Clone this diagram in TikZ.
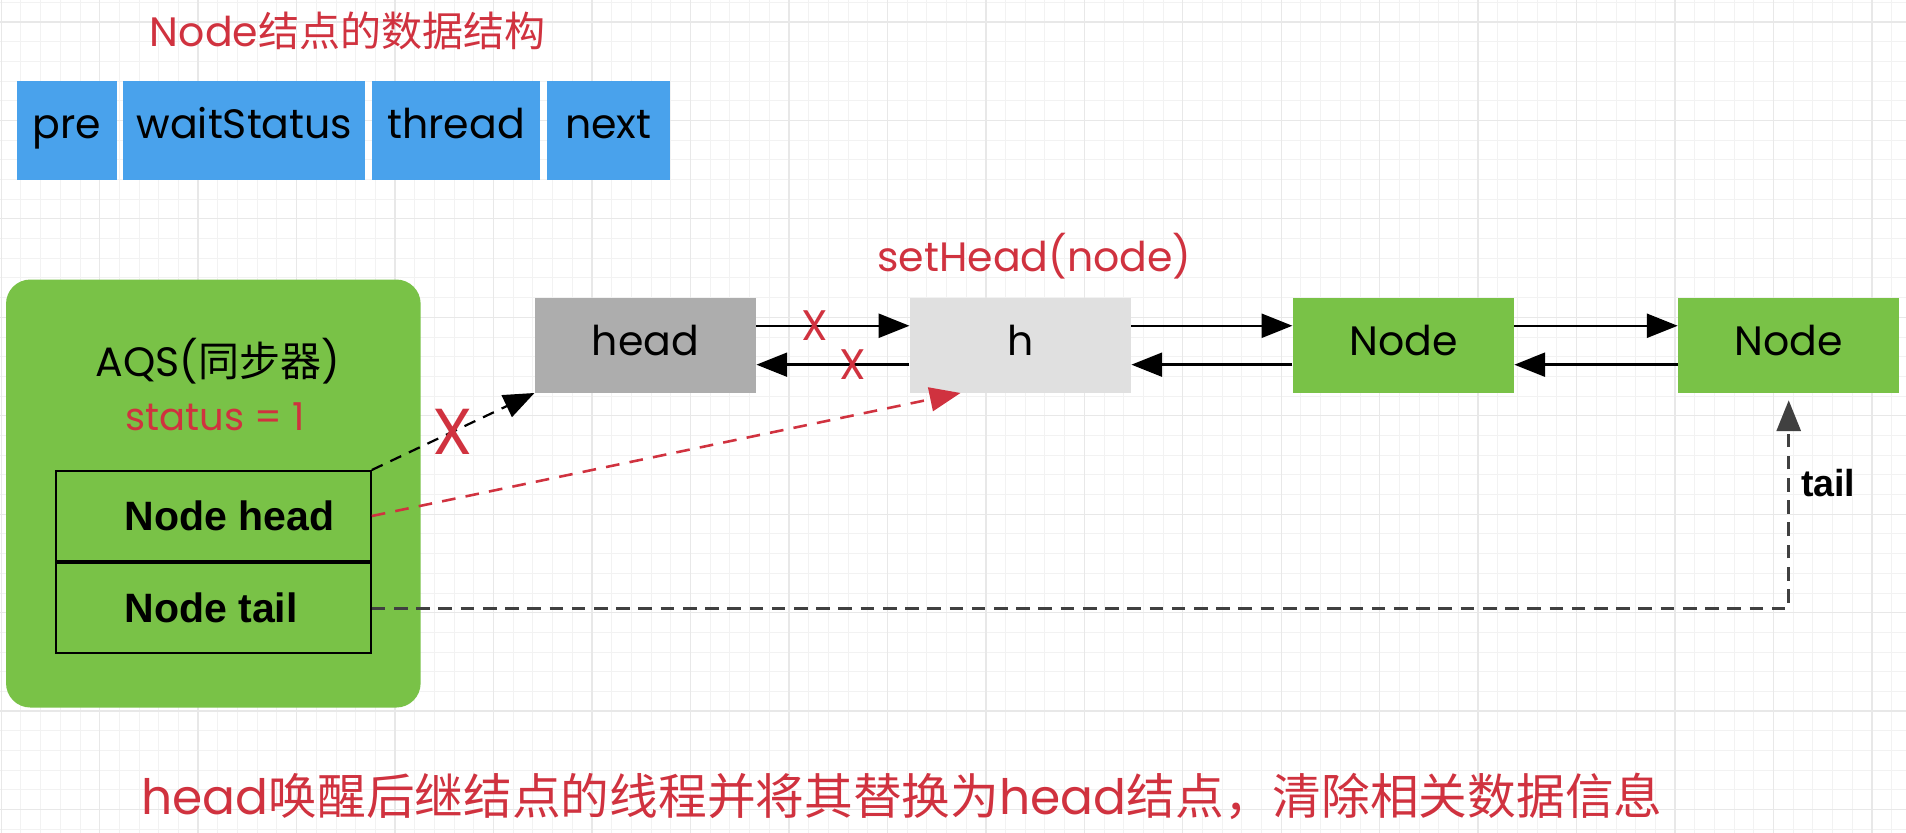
\documentclass[tikz,border=0pt]{standalone}
\usepackage{fontspec}
\setmainfont{Poppins}
\newfontfamily\cjk{Noto Sans CJK SC}
\newfontfamily\helv{Liberation Sans}
\usetikzlibrary{arrows.meta,positioning}
\definecolor{fieldblue}{HTML}{49A2EC}
\definecolor{aqsgreen}{HTML}{79C247}
\definecolor{notered}{HTML}{D0323F}
\definecolor{headgray}{HTML}{ADADAD}
\definecolor{hgray}{HTML}{E0E0E0}
\begin{document}
\begin{tikzpicture}[x=0.025cm,y=-0.025cm,
  every node/.style={font=\fontsize{24}{28}\selectfont},
  field/.style={fill=fieldblue,minimum height=2.025cm,inner sep=0pt,text height=0.96em,text depth=0pt},
  qnode/.style={minimum width=4.55cm,minimum height=1.95cm,inner sep=0pt,text height=1.15em,text depth=0pt},
  slot/.style={draw=black,line width=1.2pt,minimum width=6.475cm,minimum height=1.85cm,inner sep=0pt},
  boldtext/.style={font=\helv\bfseries\fontsize{24}{28}\selectfont,inner sep=0pt},
  redtext/.style={text=notered},
  xmark/.style={text=notered,font=\fontsize{25}{25}\selectfont,inner sep=0pt},
  link/.style={-{Triangle[length=18pt,width=14pt]},line width=1.4pt},
  oldref/.style={-{Triangle[length=18pt,width=14pt]},line width=1.3pt,dash pattern=on 7pt off 5pt},
  newref/.style={-{Triangle[length=18pt,width=14pt]},notered,line width=1.5pt,dash pattern=on 8pt off 6pt},
  tailref/.style={-{Triangle[length=18pt,width=14pt]},black!75,line width=1.8pt,dash pattern=on 8pt off 5pt,shorten >=0.15cm},
  ]
  \useasboundingbox (0,0) rectangle (1568,685);
  \fill[white] (0,0) rectangle (1568,685);
  % background grid
  \foreach \k in {0,...,96} {
    \draw[black!5,line width=0.5pt] (1+16.2*\k,0) -- (1+16.2*\k,685);
  }
  \foreach \k in {0,...,42} {
    \draw[black!5,line width=0.5pt] (0,1.8+16.2*\k) -- (1568,1.8+16.2*\k);
  }
  \foreach \k in {0,...,19} {
    \draw[black!9,line width=0.8pt] (1+81*\k,0) -- (1+81*\k,685);
  }
  \foreach \k in {0,...,8} {
    \draw[black!9,line width=0.8pt] (0,18+81*\k) -- (1568,18+81*\k);
  }

  % node layout
  \node[redtext] (title) at (286,25) {Node{\cjk 结点的数据结构}};
  \node[field,minimum width=2.05cm] (pre) at (55,107.5) {pre};
  \node[field,minimum width=4.975cm,right=0.125cm of pre] (wait) {waitStatus};
  \node[field,minimum width=3.45cm,right=0.125cm of wait] (thread) {thread};
  \node[field,minimum width=2.525cm,right=0.125cm of thread] (next) {next};

  % AQS
  \node[fill=aqsgreen,rounded corners=0.5cm,minimum width=8.525cm,minimum height=8.8cm] (aqs) at (175.5,406) {};
  \node (aqsname) at (179,297) {AQS({\cjk 同步器})};
  \node[redtext,font=\fontsize{22.5}{26}\selectfont] (status) at (177,343) {status = 1};
  \node[slot] (hf) at (175.5,424.5) {};
  \node[slot,below=0pt of hf] (tf) {};
  \node[boldtext,anchor=west] (hflabel) at ([xshift=1.425cm]hf.west) {Node head};
  \node[boldtext,anchor=west] (tflabel) at ([xshift=1.425cm]tf.west) {Node tail};

  % queue
  \node[qnode,fill=headgray] (hd) at (531,284) {head};
  \node[qnode,fill=hgray] (h) at (839.5,284) {h};
  \node[qnode,fill=aqsgreen] (n1) at (1154.5,284) {Node};
  \node[qnode,fill=aqsgreen] (n2) at (1471.5,284) {Node};
  \node[redtext] (sethead) at (851,211) {setHead(node)};

  \draw[link] ([yshift=0.4cm]hd.east) -- ([yshift=0.4cm]h.west) node[xmark,pos=0.38] {X};
  \draw[link] ([yshift=-0.4cm]h.west) -- ([yshift=-0.4cm]hd.east) node[xmark,pos=0.37] {X};
  \draw[link] ([yshift=0.4cm]h.east) -- ([yshift=0.4cm]n1.west);
  \draw[link] ([yshift=-0.4cm]n1.west) -- ([yshift=-0.4cm]h.east);
  \draw[link] ([yshift=0.4cm]n1.east) -- ([yshift=0.4cm]n2.west);
  \draw[link] ([yshift=-0.4cm]n2.west) -- ([yshift=-0.4cm]n1.east);

  % references out of AQS
  \draw[oldref] (hf.north east) -- (hd.south west) node[xmark,font=\fontsize{38}{38}\selectfont,pos=0.5] {X};
  \draw[newref] (hf.east) -- ([xshift=1.05cm]h.south west);
  \draw[tailref] (tf.east) -| (n2.south) node[pos=0.79,right=3pt,text=black,font=\helv\bfseries\fontsize{22}{26}\selectfont] {tail};

  \node[redtext,font=\fontsize{28.5}{34}\selectfont] (summary) at (742,655) {head{\cjk 唤醒后继结点的线程并将其替换为}head{\cjk 结点，清除相关数据信息}};
\end{tikzpicture}
\end{document}
